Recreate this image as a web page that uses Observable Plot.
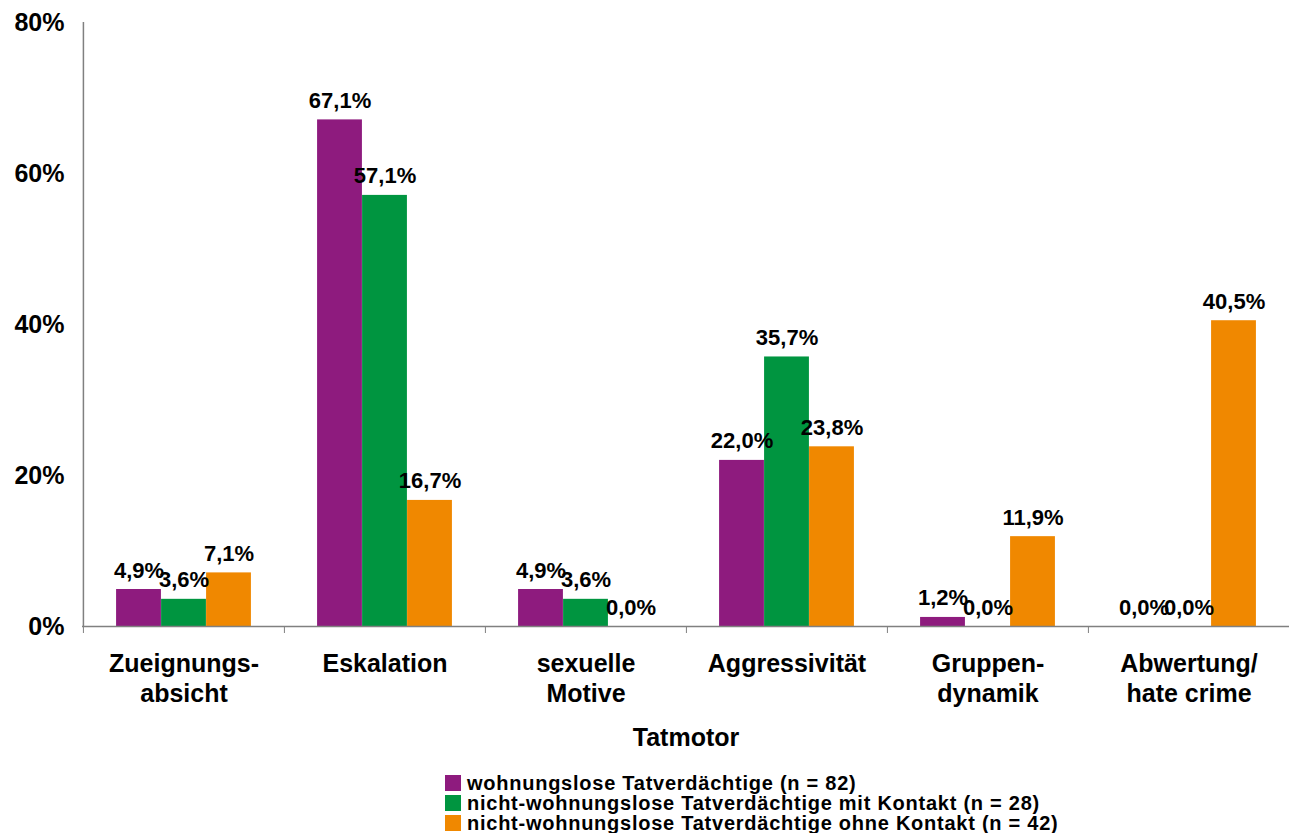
<!DOCTYPE html>
<html>
<head>
<meta charset="utf-8">
<script src="https://cdn.jsdelivr.net/npm/d3@7"></script>
<script src="https://cdn.jsdelivr.net/npm/@observablehq/plot@0.6"></script>
<style>
  body { margin: 0; background: #fff; font-family: "Liberation Sans", Arial, sans-serif; }
  #legend { margin-left: 445px; margin-top: 13px; font-weight: bold; font-size: 20px; letter-spacing: 0.75px; line-height: 20px; color: #000; }
  .item { display: flex; align-items: center; height: 20px; white-space: nowrap; }
  .swatch { width: 16px; height: 16px; margin-right: 6px; flex: none; }
</style>
</head>
<body>
<div id="chart"></div>
<div id="legend"></div>
<script>
// Tatmotor categories (axis labels, with manual line breaks)
const categories = [
  "Zueignungs-\nabsicht",
  "Eskalation",
  "sexuelle\nMotive",
  "Aggressivität",
  "Gruppen-\ndynamik",
  "Abwertung/\nhate crime"
];

// Groups of suspects
const series = [
  "wohnungslose Tatverdächtige (n = 82)",
  "nicht-wohnungslose Tatverdächtige mit Kontakt (n = 28)",
  "nicht-wohnungslose Tatverdächtige ohne Kontakt (n = 42)"
];

// Shares in percent, one array per group
const wohnungslos = [4.9, 67.1, 4.9, 22.0, 1.2, 0.0];
const mitKontakt  = [3.6, 57.1, 3.6, 35.7, 0.0, 0.0];
const ohneKontakt = [7.1, 16.7, 0.0, 23.8, 11.9, 40.5];

const yTicks = [0, 20, 40, 60, 80];
const colors = ["#8E1B7E", "#009540", "#F08800"];

const values = [wohnungslos, mitKontakt, ohneKontakt];
const rows = series.flatMap((s, j) =>
  categories.map((c, i) => ({category: c, series: s, value: values[j][i]}))
);

const width = 1289, height = 760;
const marginLeft = 82, marginRight = 0, marginTop = 22, marginBottom = 134;
const step = (width - marginLeft - marginRight) / categories.length;
const barWidth = 45;
const inset = (step - barWidth) / 2;
const axisColor = "#808080";
const fmt = v => v.toFixed(1).replace(".", ",") + "%";

const marks = [];
series.forEach((s, j) => {
  const d = rows.filter(r => r.series === s);
  marks.push(Plot.barY(d, {
    x: "category", y: "value", fill: colors[j],
    insetLeft: inset, insetRight: inset, dx: (j - 1) * barWidth
  }));
});
series.forEach((s, j) => {
  const d = rows.filter(r => r.series === s);
  marks.push(Plot.text(d, {
    x: "category", y: "value", text: d => fmt(d.value),
    dx: (j - 1) * barWidth, dy: -12, lineAnchor: "bottom",
    fontSize: 22, fontWeight: "bold", fill: "#000"
  }));
});

const chart = Plot.plot({
  width, height, marginLeft, marginRight, marginTop, marginBottom,
  style: {fontFamily: "'Liberation Sans', Arial, sans-serif", fontWeight: "bold", color: "#000", background: "#fff"},
  x: {type: "band", domain: categories, padding: 0},
  y: {domain: [0, 80]},
  marks: [
    // category separators on the baseline
    Plot.axisX({tickSize: 7, tickFormat: () => "", dx: -step / 2, label: null, stroke: axisColor}),
    // category labels and axis title
    Plot.axisX({
      tickSize: 0, tickPadding: 24, fontSize: 25, lineHeight: 1.2,
      label: "Tatmotor", labelAnchor: "center", labelArrow: "none", labelOffset: 119
    }),
    Plot.axisY({ticks: yTicks, tickFormat: d => d + "%", tickSize: 0, tickPadding: 18, fontSize: 25, label: null}),
    Plot.ruleX([categories[0]], {y1: 0, y2: 80, dx: -step / 2, stroke: axisColor, strokeWidth: 1.5}),
    ...marks,
    Plot.ruleY([0], {stroke: axisColor, strokeWidth: 1.5})
  ]
});
document.getElementById("chart").appendChild(chart);

// Legend below the chart
const legend = d3.select("#legend");
series.forEach((s, j) => {
  const item = legend.append("div").attr("class", "item");
  item.append("div").attr("class", "swatch").style("background", colors[j]);
  item.append("span").text(s);
});
</script>
</body>
</html>
